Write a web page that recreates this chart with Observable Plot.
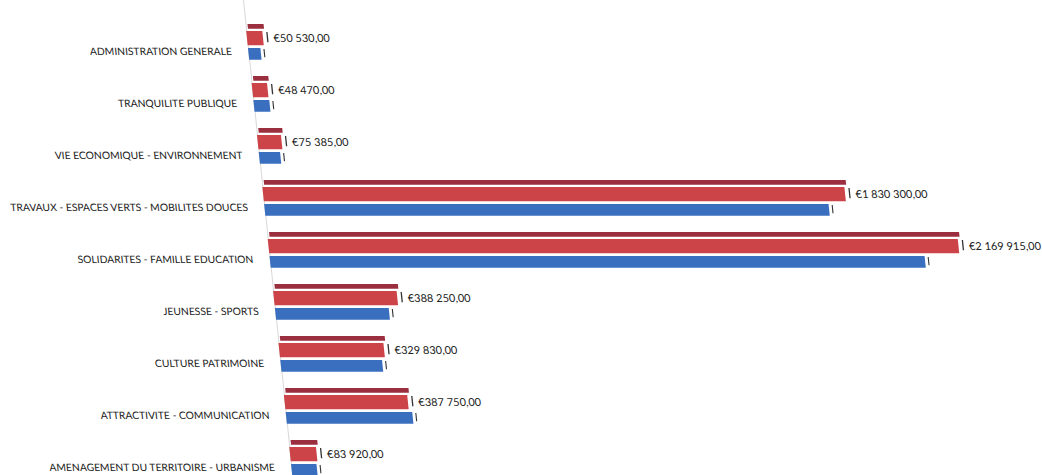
<!DOCTYPE html>
<html><head><meta charset="utf-8">
<script src="https://cdn.jsdelivr.net/npm/d3@7"></script>
<script src="https://cdn.jsdelivr.net/npm/@observablehq/plot@0.6"></script>
<style>
html,body{margin:0;padding:0;background:#fff;}
#chart svg{display:block;transform:skewX(5.91deg);transform-origin:0 0;overflow:visible;}
</style></head><body><div id="chart"></div>
<script>
const categories = [
  "ADMINISTRATION GENERALE",
  "TRANQUILITE PUBLIQUE",
  "VIE ECONOMIQUE - ENVIRONNEMENT",
  "TRAVAUX - ESPACES VERTS - MOBILITES DOUCES",
  "SOLIDARITES - FAMILLE EDUCATION",
  "JEUNESSE - SPORTS",
  "CULTURE PATRIMOINE",
  "ATTRACTIVITE - COMMUNICATION",
  "AMENAGEMENT DU TERRITOIRE - URBANISME"
];
const redValues = [50530, 48470, 75385, 1830300, 2169915, 388250, 329830, 387750, 83920];
const blueValues = [39000, 50000, 67000, 1775000, 2060000, 358000, 320000, 398000, 80000];

const rows = categories.map((c, i) => ({category: c, red: redValues[i], blue: blueValues[i]}));
const fmt = v => "€" + d3.format(",.2f")(v).replace(/,/g, " ").replace(".", ",");

const step = 52.8, top0 = 13.5;
const chart = Plot.plot({
  width: 1042, height: 475,
  marginLeft: 243, marginRight: 4, marginTop: 0, marginBottom: 0,
  x: {domain: [0, 2500000], axis: null},
  y: {domain: categories, range: [top0, top0 + categories.length * step], padding: 0, axis: null},
  style: {fontFamily: "Lato, 'Open Sans', sans-serif", fontSize: "11px", color: "#222", background: "#fff"},
  marks: [
    Plot.ruleX([0], {stroke: "#d8d8d8", strokeWidth: 1}),
    Plot.barX(rows, {x: "red", y: "category", fill: "#9b2f3f", insetTop: 7, insetBottom: step - 12.5, dx: 2}),
    Plot.barX(rows, {x: "red", y: "category", fill: "#cc4448", insetTop: 14, insetBottom: step - 29}),
    Plot.barX(rows, {x: "blue", y: "category", fill: "#3a6fc0", insetTop: 31, insetBottom: step - 43.5}),
    Plot.tickX(rows, {x: "red", y: "category", stroke: "#333", strokeWidth: 1.3, dx: 4, insetTop: 15, insetBottom: step - 26}),
    Plot.tickX(rows, {x: "blue", y: "category", stroke: "#333", strokeWidth: 1.1, dx: 3, insetTop: 32, insetBottom: step - 41}),
    Plot.text(rows, {x: "red", y: "category", text: d => fmt(d.red), textAnchor: "start", dx: 10, dy: -5, fill: "#222"}),
    Plot.text(rows, {x: d => 0, y: "category", text: "category", textAnchor: "end", dx: -17, dy: 8, fill: "#222", fontSize: 10.3})
  ]
});
document.getElementById("chart").append(chart);
</script>
</body></html>
